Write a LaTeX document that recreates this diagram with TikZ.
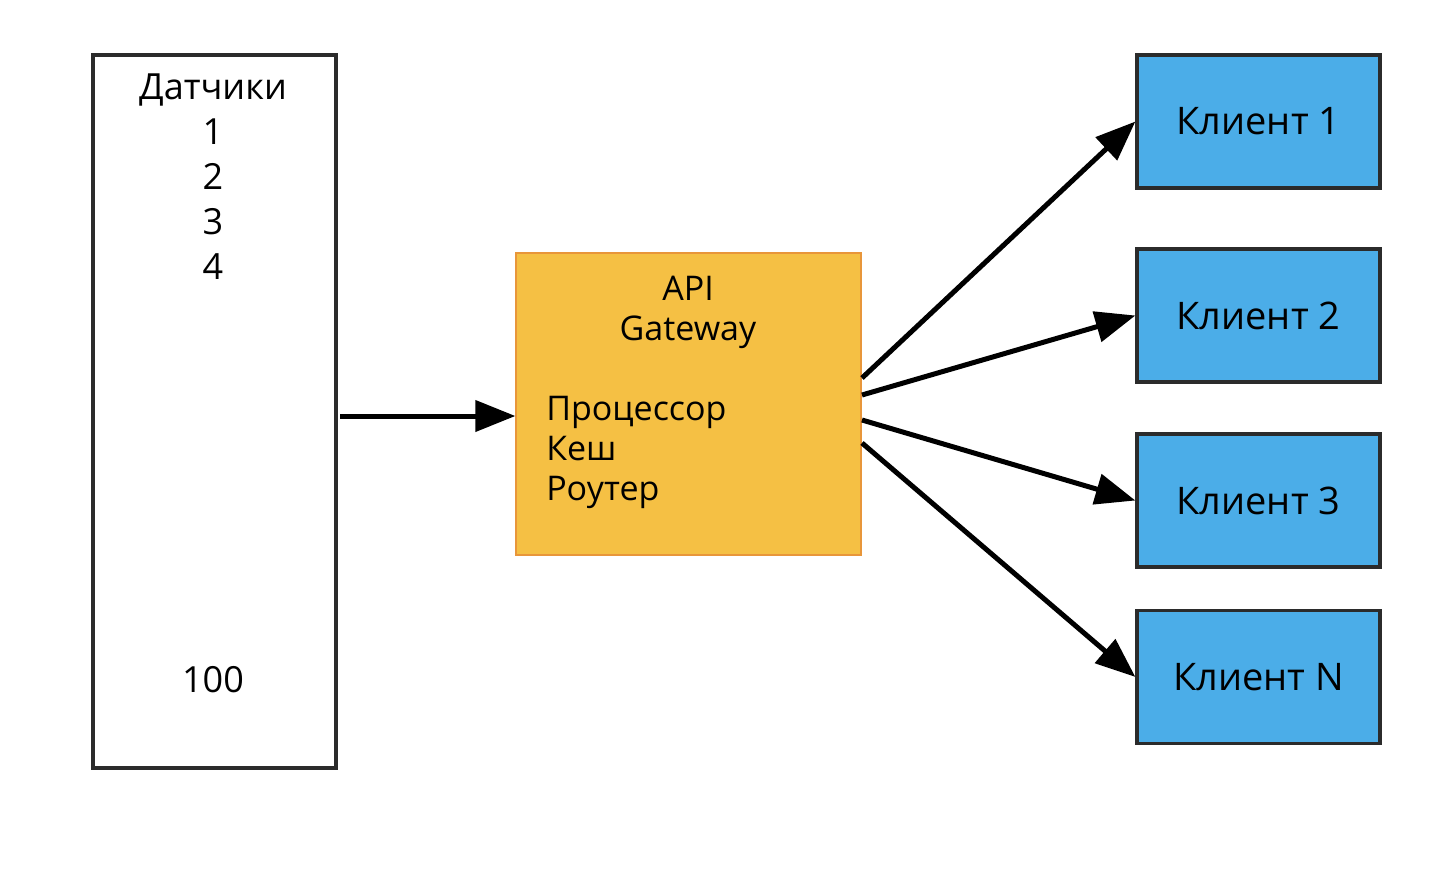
\documentclass[tikz,border=0pt]{standalone}
\usepackage{fontspec}
\setmainfont{Open Sans}
\usetikzlibrary{arrows.meta}
\definecolor{gwfill}{HTML}{F5C044}
\definecolor{gwline}{HTML}{E8963A}
\definecolor{clfill}{HTML}{4BADE8}
\definecolor{dark}{HTML}{2B2B2B}
\begin{document}
\begin{tikzpicture}[x=0.75pt,y=-0.75pt,
  sensbox/.style={draw=dark,line width=2.4pt,minimum width=182.25pt,minimum height=534.75pt,inner sep=0pt},
  gwbox/.style={draw=gwline,fill=gwfill,line width=0.9pt,minimum width=258.75pt,minimum height=226.5pt,inner sep=0pt},
  clbox/.style={draw=dark,fill=clfill,line width=2.4pt,minimum width=182.25pt,minimum height=99.75pt,inner sep=0pt,
    font=\fontsize{28.5pt}{33pt}\selectfont},
  stxt/.style={anchor=base,inner sep=0pt,font=\fontsize{27pt}{32pt}\selectfont},
  gtxt/.style={inner sep=0pt,font=\fontsize{25.5pt}{30pt}\selectfont},
  arr/.style={line width=3.75pt,-{Triangle[length=30pt,width=23pt]}}
]
\useasboundingbox (0,0) rectangle (1450,872);
\node[sensbox] (sens) at (214.5,411.5) {};
\node[stxt] (s0) at (213,99) {Датчики};
\node[stxt] (s1) at (213,144) {1};
\node[stxt] (s2) at (213,189) {2};
\node[stxt] (s3) at (213,234) {3};
\node[stxt] (s4) at (213,279) {4};
\node[stxt] (s5) at (213,692) {100};

\node[gwbox] (gw) at (688.5,404) {};
\node[gtxt,anchor=base] (g1) at (688,300) {API};
\node[gtxt,anchor=base] (g2) at (688,340) {Gateway};
\node[gtxt,anchor=base west] (g3) at (546,420) {Процессор};
\node[gtxt,anchor=base west] (g4) at (546,460) {Кеш};
\node[gtxt,anchor=base west] (g5) at (546,500) {Роутер};

\node[clbox] (c1) at (1258.5,121.5) {Клиент 1};
\node[clbox] (c2) at (1258.5,315.5) {Клиент 2};
\node[clbox] (c3) at (1258.5,500.5) {Клиент 3};
\node[clbox] (c4) at (1258.5,677) {Клиент N};

\coordinate (a0) at (340,416);
\coordinate (o1) at (862,378);
\coordinate (o2) at (862,395);
\coordinate (o3) at (862,420);
\coordinate (o4) at (862,443);
\draw[arr] (a0) -- (gw.west |- a0);
\draw[arr] (o1) -- (c1.west);
\draw[arr] (o2) -- (c2.west);
\draw[arr] (o3) -- (c3.west);
\draw[arr] (o4) -- (c4.west);
\end{tikzpicture}
\end{document}
